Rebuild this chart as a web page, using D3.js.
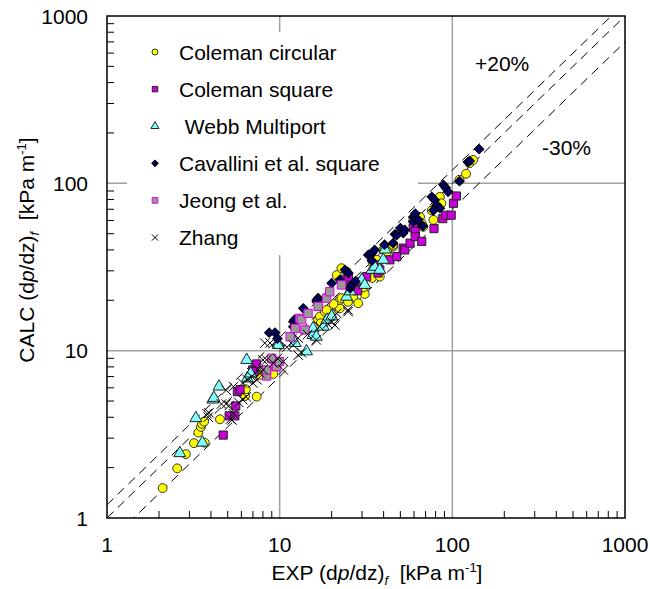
<!DOCTYPE html>
<html>
<head>
<meta charset="utf-8">
<script src="https://cdn.jsdelivr.net/npm/d3@7"></script>
<style>
  body { margin: 0; background: #fff; }
  text { font-family: "Liberation Sans", Arial, sans-serif; }
</style>
</head>
<body>
<svg id="chart" width="650" height="589"></svg>
<script>
// EXP, CALC pairs in kPa/m
const colemanCircular = [
  [2.1, 1.51], [2.55, 1.98], [2.86, 2.41], [3.19, 2.8], [3.38, 3.24], [3.5, 3.5], [3.55, 3.65],
  [3.65, 3.77], [3.68, 2.82], [4.51, 3.89], [6.3, 5.36], [6.37, 5.88], [7.36, 5.31], [7.69, 7.16],
  [9.18, 7.26], [16.7, 15.3], [17.1, 16], [17.3, 14.6], [18.3, 17.1], [18.7, 17.5], [20, 16],
  [21.4, 18.4], [22.3, 17.9], [22.3, 20.1], [22.8, 20.6], [24.9, 19.6], [25.6, 23.6], [21.4, 28.3],
  [22.8, 31.1], [24.4, 29.7], [24.9, 26.5], [26.7, 21], [28.5, 19.2], [31.1, 21.8], [30.5, 23.9],
  [34.2, 27.2], [34.6, 33.3], [36.5, 34.9], [38, 27.7], [39.8, 40.2], [40.8, 41], [45.4, 41.9],
  [45.4, 42.9], [59.4, 60.5], [61, 57.6], [65, 63], [66.5, 57.6], [67.9, 55], [76, 69], [77.7, 60.5],
  [84.7, 83], [86.5, 76], [110, 105], [120, 114], [126, 132], [132, 138], [20.5, 19], [27, 24.5],
  [42, 39], [80, 72]
];
const colemanSquare = [
  [4.71, 3.13], [5.1, 4.08], [5.5, 4.08], [5.57, 4.67], [5.69, 5.69], [5.9, 5.85], [6.98, 7.67],
  [7.36, 8.33], [7.1, 7.5], [23.9, 26.5], [25, 27.5], [28.3, 22.8], [29.2, 25.9], [31.9, 27.7],
  [37.1, 32.6], [37.1, 29.1], [38, 30.4], [43.5, 34.9], [47.7, 36.5], [51.9, 41], [53, 40],
  [56.9, 43.9], [59.4, 54.3], [61, 51.5], [61, 48], [66.5, 45], [78.3, 53.6], [88, 61.5],
  [91.5, 64.5], [98.5, 64.5], [101.5, 76], [105.6, 84]
];
const webbMultiport = [
  [2.64, 2.44], [3.27, 3.95], [3.57, 2.82], [4.1, 5.1], [4.16, 5.22], [4.45, 6.1], [6.44, 8.8],
  [6.5, 6.83], [6.8, 7.3], [9.8, 11.1], [9.8, 10.8], [12.3, 11.1], [14.3, 9.9], [15.6, 12.4],
  [15.6, 13.6], [16.3, 12.1], [17.9, 13.9], [18.8, 15.3], [20, 16], [24.4, 21], [25.6, 22.6],
  [29.9, 26.5], [31.1, 24.7], [34.2, 30.4], [35.5, 31.7], [38, 30.4], [39.8, 34.9], [40.8, 40.2]
];
const cavalliniSquare = [
  [8.7, 12.8], [9.4, 12.8], [9.7, 11.8], [12, 14.9], [12, 13.9], [12.2, 15.3], [13.7, 17.9],
  [16.4, 19.6], [16.7, 20.6], [16.4, 20.1], [20, 25.3], [22.3, 26.5], [23.9, 30.4], [25, 29.1],
  [25.6, 23.6], [26.1, 24.7], [27.4, 25.9], [32.6, 37.3], [34.2, 38.2], [35.5, 40], [34.2, 34.5],
  [40.5, 43], [45.4, 43.9], [46.5, 49.6], [47.6, 49], [50, 54], [52, 50.5], [53, 52.7], [59.4, 59],
  [59.4, 63], [61, 66], [63.5, 60.5], [67.5, 55.5], [76, 83], [79, 79.5], [81.5, 74], [84.7, 71],
  [77.7, 69], [88.7, 98], [91.5, 94], [94.5, 89], [110, 103], [123, 134], [126, 136], [143, 160]
];
const jeong = [
  [8.4, 7.06], [8.4, 7.67], [9, 9], [9.5, 8.04], [9.6, 8.04], [10, 8.6], [11.5, 12.1], [12.3, 13.6],
  [13.1, 15.6], [13.4, 15.3], [14, 13.3], [14.6, 16.7], [16.7, 18.4], [18.7, 20.6], [19.5, 22.5],
  [22.8, 24.7]
];
const zhang = [
  [3.8, 4.2], [3.86, 4.0], [3.9, 4.25], [4.6, 4.8], [4.9, 4.8], [5.1, 4.7], [4.9, 5.8], [5.2, 3.9],
  [5.3, 3.85], [5.4, 4.2], [5.4, 6.1], [5.8, 4.9], [6.1, 5.1], [6.1, 6.4], [6.4, 5.3], [6.5, 6.7],
  [6.9, 7.0], [7.0, 6.4], [7.4, 6.7], [7.5, 7.7], [7.7, 7.3], [8, 7.7], [8, 8.8], [8.4, 8.8],
  [8.2, 11.1], [8.8, 11.1], [9.2, 8.4], [9.7, 9.0], [10.5, 7.67], [10.5, 8.6], [11, 10.5],
  [12, 10.8], [12.8, 9.4], [13.4, 9.7], [12.8, 11.9], [14.5, 12.5], [16.3, 11.6], [17, 14],
  [19, 14.5], [20, 14.9], [20.9, 14.2], [21.4, 16.7], [24.9, 17.1], [24.9, 17.5]
];

const seriesNames = ['Coleman circular', 'Coleman square', ' Webb Multiport',
  'Cavallini et al. square', 'Jeong et al.', 'Zhang'];
const bandFactors = [1.2, 1.0, 0.7];
const bandLabels = ['+20%', '-30%'];
const axisTicks = [1, 10, 100, 1000];

const svg = d3.select('#chart');
const plot = { left: 107, right: 625, top: 16, bottom: 518 };

const x = d3.scaleLog().domain([1, 1000]).range([plot.left, plot.right]);
const y = d3.scaleLog().domain([1, 1000]).range([plot.bottom, plot.top]);

const styles = [
  { data: colemanCircular, type: d3.symbolCircle, size: 62, fill: '#ffff00', stroke: '#333' },
  { data: colemanSquare, type: d3.symbolSquare, size: 66, fill: '#cc00dd', stroke: '#222' },
  { data: webbMultiport, type: d3.symbolTriangle, size: 62, fill: '#80ffff', stroke: '#222' },
  { data: cavalliniSquare, type: d3.symbolSquare, size: 44, fill: '#000066', stroke: '#000', rotate: 45 },
  { data: jeong, type: d3.symbolSquare, size: 70, fill: '#999999', stroke: '#dd00dd' },
  { data: zhang, type: d3.symbolTimes, size: 60, fill: 'none', stroke: '#000' }
];

// grid (major decades only)
const grid = svg.append('g').attr('stroke', '#a0a0a0').attr('stroke-width', 1.5);
[10, 100].forEach((v) => {
  grid.append('line').attr('x1', x(v)).attr('x2', x(v)).attr('y1', plot.top).attr('y2', plot.bottom);
  grid.append('line').attr('x1', plot.left).attr('x2', plot.right).attr('y1', y(v)).attr('y2', y(v));
});

// legend box hides grid behind it
svg.append('rect').attr('x', 127).attr('y', 32).attr('width', 291).attr('height', 223).attr('fill', '#fff');

// minor ticks inside on left and bottom
const minor = [];
[1, 10, 100].forEach((d) => { for (let k = 2; k <= 9; k++) minor.push(d * k); });
const ticks = svg.append('g').attr('stroke', '#000').attr('stroke-width', 1);
minor.forEach((v) => {
  ticks.append('line').attr('x1', x(v)).attr('x2', x(v)).attr('y1', plot.bottom).attr('y2', plot.bottom - 7);
  ticks.append('line').attr('x1', plot.left).attr('x2', plot.left + 7).attr('y1', y(v)).attr('y2', y(v));
});

// clip for dashed lines
svg.append('clipPath').attr('id', 'plotclip')
  .append('rect').attr('x', plot.left).attr('y', plot.top)
  .attr('width', plot.right - plot.left).attr('height', plot.bottom - plot.top);

const line = d3.line().x((d) => x(d[0])).y((d) => y(d[1]));
bandFactors.forEach((f) => {
  svg.append('path')
    .attr('d', line([[1, f], [1000, 1000 * f]]))
    .attr('clip-path', 'url(#plotclip)')
    .attr('fill', 'none').attr('stroke', '#000').attr('stroke-width', 1)
    .attr('stroke-dasharray', '9,6');
});

// points
styles.forEach((s) => {
  const sym = d3.symbol().type(s.type).size(s.size);
  svg.append('g').selectAll('path').data(s.data).join('path')
    .attr('d', sym)
    .attr('transform', (d) => `translate(${x(d[0])},${y(d[1])})${s.rotate ? ` rotate(${s.rotate})` : ''}`)
    .attr('fill', s.fill)
    .attr('stroke', s.stroke)
    .attr('stroke-width', 1);
});

// frame
svg.append('rect').attr('x', plot.left).attr('y', plot.top)
  .attr('width', plot.right - plot.left).attr('height', plot.bottom - plot.top)
  .attr('fill', 'none').attr('stroke', '#000').attr('stroke-width', 1.5);

// tick labels
const fs = 21;
svg.append('g').selectAll('text').data(axisTicks).join('text')
  .attr('x', (d) => x(d)).attr('y', 552).attr('text-anchor', 'middle')
  .attr('font-size', fs).text((d) => d);
svg.append('g').selectAll('text').data(axisTicks).join('text')
  .attr('x', 88).attr('y', (d) => y(d) + 7.5).attr('text-anchor', 'end')
  .attr('font-size', fs).text((d) => d);

// axis titles
function axisTitle(sel, prefix) {
  sel.append('tspan').text(prefix + ' (d');
  sel.append('tspan').attr('font-style', 'italic').text('p');
  sel.append('tspan').text('/dz)');
  sel.append('tspan').attr('font-style', 'italic').attr('font-size', 13).attr('dy', 5).text('f');
  sel.append('tspan').attr('dy', -5).text('\u00a0 [kPa m');
  sel.append('tspan').attr('font-size', 13).attr('dy', -8).text('-1');
  sel.append('tspan').attr('dy', 8).text(']');
}
svg.append('text').attr('x', 377).attr('y', 580).attr('text-anchor', 'middle')
  .attr('font-size', fs).call(axisTitle, 'EXP');
svg.append('text').attr('transform', 'translate(34,250) rotate(-90)').attr('text-anchor', 'middle')
  .attr('font-size', fs).call(axisTitle, 'CALC');

// band labels
svg.append('text').attr('x', 475).attr('y', 71).attr('font-size', fs).text(bandLabels[0]);
svg.append('text').attr('x', 542).attr('y', 155).attr('font-size', fs).text(bandLabels[1]);

// legend
const legend = svg.append('g');
styles.forEach((s, i) => {
  const ly = 52 + i * 37.1;
  const sym = d3.symbol().type(s.type).size(s.size * 0.45);
  legend.append('path').attr('d', sym)
    .attr('transform', `translate(155,${ly})${s.rotate ? ` rotate(${s.rotate})` : ''}`)
    .attr('fill', s.fill).attr('stroke', s.stroke).attr('stroke-width', 1);
  legend.append('text').attr('x', 179).attr('y', ly + 7.5).attr('font-size', fs)
    .style('white-space', 'pre').text(seriesNames[i]);
});
</script>
</body>
</html>
